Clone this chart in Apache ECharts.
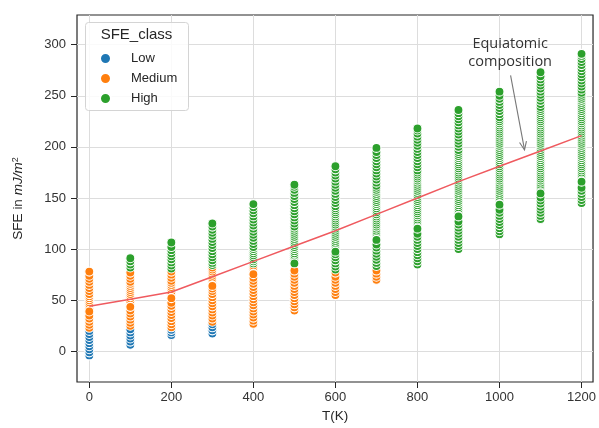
<!DOCTYPE html>
<html><head><meta charset="utf-8">
<script src="https://cdn.jsdelivr.net/npm/echarts@6/dist/echarts.min.js"></script>
<style>html,body{margin:0;padding:0;background:#fff}#c{width:599px;height:428px}</style>
</head><body><div id="c"></div>
<script>
// ---- data ----
const temps = [0,100,200,300,400,500,600,700,800,900,1000,1100,1200];
const xTicks = [0,200,400,600,800,1000,1200];
const yTicks = [0,50,100,150,200,250,300];
const classNames = ['Low','Medium','High'];

// SFE values per temperature column (last value of a column = the isolated dot drawn on top)
const lowSFE = [
  [-4,-1,2,5,8,11,14,17,20],
  [6.5,9.5,12.5,15.5,18.5,21.5],
  [16,18.5,21],
  [17.5,20.5,23.5,26.5],
  [],[],[],[],[],[],[],[],[]
];
const mediumSFE = [
  [23,26,29,32,35,42,44,46,48,50,52,54,56,59,62,65,68,71,74,78,39],
  [25,28,31,34,37,40,46,49,52,54,56,58,60,62,64,66,68,71,74,77,43.5],
  [23.5,26.5,29.5,32.5,35.5,38.5,41.5,44.5,47.5,55,58,61,63,65,67,69,72,75,78,52],
  [29,32,35,38,41,44,47,50,53,56,59,61.5,67,70,72,74,76,78,80,82,64],
  [27,30,33,36,39,42,45,48,51,54,57,60,63,66,69,72,78,80,82,84,75.5],
  [40,43,46,49,52,55,58,61,64,67,70,73,76,79],
  [55,58,61,64,67,70,73,77],
  [70,73,76,79],
  [],[],[],[],[]
];
const highSFE = [
  [],
  [82,85,88,91],
  [81,84,87,90,93,96,99,102,106.5],
  [84.5,86.5,89,92,95,98,101,104,107,110,113,116,119,122,125],
  [86,88,90,92,94,96,98,100,102,105,108,111,114,117,120,123,126,129,132,135,138,141,144],
  [90,92,94,96,98,100,102,104,106,108,110,112,114,116,118,120,122,125,128,131,134,137,140,143,146,149,152,155,158,161,163,86],
  [80,83,86,89,92,95,100,102,104,106,108,110,112,114,116,118,120,122,124,126,128,130,132,134,136,138,140,142,145,148,151,154,157,160,163,166,169,172,175,178,181,97.5],
  [83.5,86.5,89.5,92.5,95.5,98.5,101.5,104.5,112,114,116,118,120,122,124,126,128,130,132,134,136,138,140,142,144,146,148,150,152,154,156,158,160,162,165,168,171,174,177,180,183,186,189,192,195,199,109],
  [85,88,91,94,97,100,103,106,109,112,115,123,125,127,129,131,133,135,137,139,141,143,145,147,149,151,153,155,157,159,161,163,165,167,169,171,173,175,177,180,183,186,189,192,195,198,201,204,207,210,213,216,218,120],
  [100,103,106,109,112,115,118,121,124,127,135,137,139,141,143,145,147,149,151,153,155,157,159,161,163,165,167,169,171,173,175,177,179,181,183,185,187,189,191,193,195,197,200,203,206,209,212,215,218,221,224,227,230,233,236,132],
  [114.5,117.5,120.5,123.5,126.5,129.5,132.5,135.5,138.5,147,149,151,153,155,157,159,161,163,165,167,169,171,173,175,177,179,181,183,185,187,189,191,193,195,197,199,201,203,205,207,209,211,213,215,217,219,221,223,225,227,229,232,235,238,241,244,247,250,254,143.5],
  [129.5,132.5,135.5,138.5,141.5,144.5,147.5,150.5,159,161,163,165,167,169,171,173,175,177,179,181,183,185,187,189,191,193,195,197,199,201,203,205,207,209,211,213,215,217,219,221,223,225,227,229,231,233,235,237,239,242,245,248,251,254,257,260,263,266,269,273,154.5],
  [145,148,151,154,157,160,169,171,173,175,177,179,181,183,185,187,189,191,193,195,197,199,201,203,205,207,209,211,213,215,217,219,221,223,225,227,229,231,233,235,237,239,241,243,245,247,249,251,253,256,259,262,265,268,271,274,277,280,283,286,289,291,166]
];
const equiatomicSFE = [44,51,58,73,88,103,118,134,150,166,181,196,211];
const annotationText = 'Equiatomic\ncomposition';
const annotationTextAt = [1026, 292];
const arrowFrom = [1027, 270];
const arrowTo = [1061, 197];

// ---- chart ----
const chart = echarts.init(document.getElementById('c'), null, {renderer: 'canvas'});
const colors = {Low: '#1f77b4', Medium: '#ff7f0e', High: '#2ca02c'};
function toPoints(arr) {
  const out = [];
  arr.forEach((col, i) => col.forEach(v => out.push([temps[i], v])));
  return out;
}
const classData = {Low: lowSFE, Medium: mediumSFE, High: highSFE};
const scatterSeries = classNames.map(name => ({
  name: name, type: 'scatter', data: toPoints(classData[name]),
  symbol: 'circle', symbolSize: 9, silent: true, z: 2,
  itemStyle: {color: colors[name], borderColor: '#ffffff', borderWidth: 1.1, opacity: 1},
  emphasis: {disabled: true}
}));
const font = 'Liberation Sans, Arial, sans-serif';
const option = {
  animation: false,
  backgroundColor: '#ffffff',
  textStyle: {fontFamily: font},
  grid: {left: 77, right: 5, top: 15, bottom: 46, show: true, borderColor: '#262626', borderWidth: 1.2, backgroundColor: 'transparent'},
  xAxis: {
    type: 'value', min: -30, max: 1228,
    name: 'T(K)', nameLocation: 'middle', nameGap: 24,
    nameTextStyle: {fontSize: 13.5, color: '#262626', fontFamily: font},
    axisLine: {show: false, onZero: false},
    axisTick: {show: true, length: 6, customValues: xTicks, lineStyle: {color: '#262626', width: 1}},
    axisLabel: {customValues: xTicks, fontSize: 13, color: '#333', margin: 9, fontFamily: font,
      formatter: v => String(v)},
    splitLine: {show: true, lineStyle: {color: '#dddddd', width: 1}}
  },
  yAxis: {
    type: 'value', min: -30, max: 329,
    name: 'SFE in {i|mJ/m}{s|2}', nameLocation: 'middle', nameGap: 52,
    nameTextStyle: {fontSize: 13.5, color: '#262626', fontFamily: font,
      rich: {i: {fontStyle: 'italic', fontSize: 13.5, color: '#262626', fontFamily: font},
             s: {fontSize: 9, color: '#262626', verticalAlign: 'top', fontFamily: font}}},
    axisLine: {show: false, onZero: false},
    axisTick: {show: true, length: 6, customValues: yTicks, lineStyle: {color: '#262626', width: 1}},
    axisLabel: {customValues: yTicks, fontSize: 13, color: '#333', margin: 11, fontFamily: font},
    splitLine: {show: true, lineStyle: {color: '#dddddd', width: 1}}
  },
  legend: {
    data: classNames, orient: 'vertical', left: 94, top: 47,
    icon: 'circle', itemWidth: 41, itemHeight: 11, itemGap: 7,
    textStyle: {fontSize: 13, color: '#262626', fontFamily: font},
    z: 6
  },
  series: scatterSeries.concat([{
    name: 'Equiatomic', type: 'line', symbol: 'none', silent: true, z: 5,
    data: temps.map((t, i) => [t, equiatomicSFE[i]]),
    lineStyle: {color: '#ef5a5f', width: 1.5}
  }])
};
chart.setOption(option);

const pt = p => chart.convertToPixel({gridIndex: 0}, p);
const a = pt(arrowFrom), b = pt(arrowTo), tp = pt(annotationTextAt);
const ang = Math.atan2(b[1] - a[1], b[0] - a[0]);
const headLen = 9, spread = 0.4;
const h1 = [b[0] - headLen * Math.cos(ang - spread), b[1] - headLen * Math.sin(ang - spread)];
const h2 = [b[0] - headLen * Math.cos(ang + spread), b[1] - headLen * Math.sin(ang + spread)];
chart.setOption({
  graphic: [
    {type: 'rect', z: 4, shape: {x: 85.5, y: 22.5, width: 103, height: 88, r: 3},
     style: {fill: 'rgba(255,255,255,0.85)', stroke: '#d4d4d4', lineWidth: 1}},
    {type: 'text', z: 7, x: 136.5, y: 35,
     style: {text: 'SFE_class', fill: '#262626', font: '15px Liberation Sans, Arial, sans-serif', align: 'center', verticalAlign: 'middle'}},
    {type: 'text', z: 7, x: tp[0], y: tp[1],
     style: {text: annotationText, fill: '#333', font: '14.5px "Open Sans", sans-serif', align: 'center', verticalAlign: 'middle', lineHeight: 18}},
    {type: 'line', z: 7, shape: {x1: a[0], y1: a[1], x2: b[0], y2: b[1]}, style: {stroke: '#777', lineWidth: 1.1}},
    {type: 'polyline', z: 7, shape: {points: [h1, b, h2]}, style: {stroke: '#777', lineWidth: 1.1, fill: null}}
  ]
});
</script></body></html>
